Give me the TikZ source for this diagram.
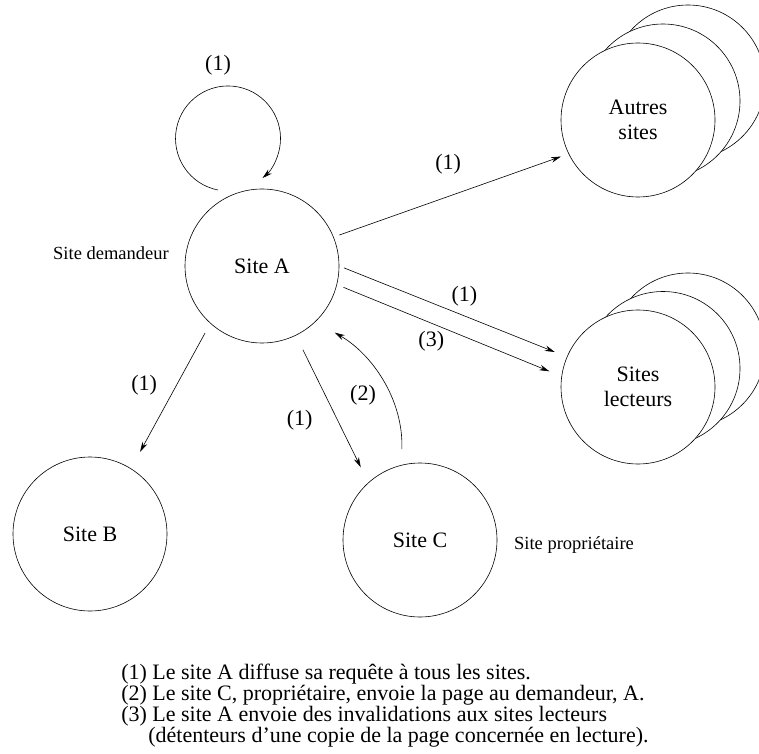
\documentclass[tikz,border=0pt]{standalone}
\usepackage{fontspec}
\setmainfont{Liberation Serif}
\usetikzlibrary{calc}
\usetikzlibrary{arrows.meta}

\tikzset{
  site/.style={draw, circle, minimum size=154pt, inner sep=0pt, fill=white,
    align=center, font=\fontsize{22}{25}\selectfont},
  flow/.style={->, >={Stealth[length=10pt,width=5.5pt]}},
  lbl/.style={font=\fontsize{22}{25}\selectfont},
  note/.style={font=\fontsize{18.5}{20}\selectfont},
  legend/.style={font=\fontsize{22}{18.4}\selectfont, align=left, inner sep=0pt},
}

\begin{document}
\begin{tikzpicture}[x=1pt, y=1pt, line width=0.6pt]
\useasboundingbox (0,0) rectangle (759,753);
% les piles de sites derriere
\foreach \d in {2,1} {
 \node[site] at ($(638,633)+\d*(25,19)$) {};
 \node[site] at ($(638,366)+\d*(25,18.5)$) {};
}
\node[site] (A) at (262,487) {Site A};
\node[site] (B) at (90,219) {Site B};
\node[site] (C) at (420,213) {Site C};
\node[site] (autres) at (638,633) {Autres\\sites};
\node[site] (lecteurs) at (638,366) {Sites\\lecteurs};

\node[note] (demandeur) at (111,500) {Site demandeur};
\node[note] (proprio) at (574,208) {Site propriétaire};

% (1) diffusion
\draw[flow] ([shift={(-44,76)}]A.center) arc[start angle=259, end angle=-49, radius=52.5];
\node[lbl] (boucle) at (218,688) {(1)};
\draw[flow, shorten <=6pt, shorten >=8pt] (A.22) -- (autres.206)
  node[lbl, midway, above=18pt, xshift=-3pt] {(1)};
\draw[flow, shorten <=5pt, shorten >=13pt] (A.0) -- (lecteurs.157)
  node[lbl, pos=0.55, above=6pt] {(1)};
\draw[flow, shorten <=11pt, shorten >=19pt] (A.228) -- (B.58)
  node[lbl, midway, left=10pt, yshift=11pt] {(1)};
\draw[flow, shorten <=16pt, shorten >=17pt] (A.-64) -- (C.132)
  node[lbl, midway, left=16pt, yshift=-11pt] {(1)};
% (2) reponse du proprietaire
\draw[flow, shorten <=16pt, shorten >=22pt] (C.104) to[out=88, in=-30] (A.-46);
\node[lbl] (deux) at (363,358) {(2)};
% (3) invalidations
\draw[flow, shorten <=7pt, shorten >=13pt] (A.-14) -- (lecteurs.172)
  node[lbl, pos=0.42, below=4pt] {(3)};

\node[legend, anchor=north west] (legende) at (121,89) {%
(1) Le site A diffuse sa requête à tous les sites.\\
(2) Le site C, propriétaire, envoie la page au demandeur, A.\\
(3) Le site A envoie des invalidations aux sites lecteurs\\
\hspace*{27pt}(détenteurs d’une copie de la page concernée en lecture).};
\end{tikzpicture}
\end{document}
